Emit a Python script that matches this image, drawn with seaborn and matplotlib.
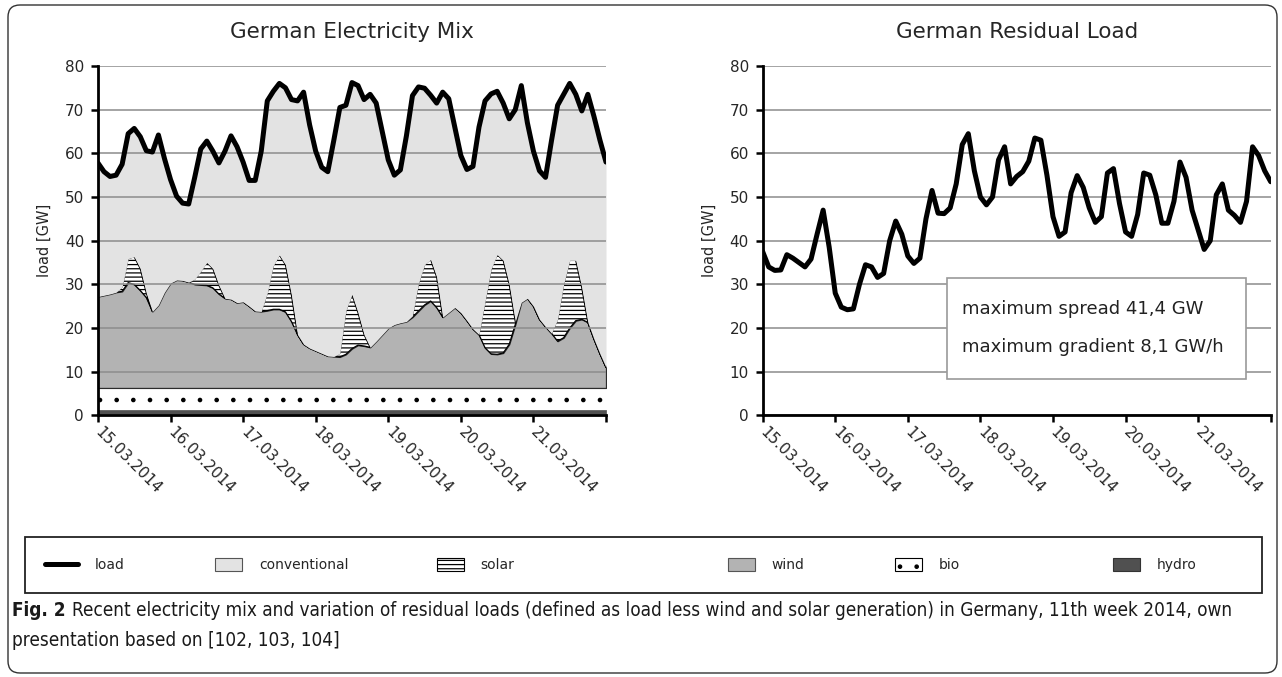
import matplotlib
matplotlib.use("Agg")
import matplotlib.pyplot as plt
from matplotlib.lines import Line2D
from matplotlib.patches import Patch, Rectangle, FancyBboxPatch
from matplotlib.transforms import IdentityTransform
import pandas as pd
import seaborn as sns

# hours since 15.03.2014 00:00, two-hour steps
hours = list(range(0, 169, 2))
day_labels = ["15.03.2014", "16.03.2014", "17.03.2014", "18.03.2014",
              "19.03.2014", "20.03.2014", "21.03.2014", ""]

load_gw = [57.8, 55.8, 54.7, 55.0, 57.5, 64.5, 65.7, 63.8, 60.6, 60.3, 64.2, 58.8,
           54.0, 50.2, 48.6, 48.4, 54.5, 61.0, 62.8, 60.5, 57.8, 60.5, 64.0, 61.5,
           58.0, 53.8, 53.8, 60.5, 72.0, 74.2, 76.0, 75.0, 72.3, 72.0, 74.0, 66.5,
           60.5, 56.8, 55.8, 63.0, 70.5, 71.0, 76.2, 75.5, 72.3, 73.5, 71.5, 65.0,
           58.5, 55.0, 56.2, 64.0, 73.2, 75.2, 74.9, 73.3, 71.5, 74.0, 72.5, 66.0,
           59.5, 56.3, 57.0, 66.0, 72.0, 73.6, 74.2, 71.5, 67.9, 70.0, 75.5, 67.0,
           60.5, 56.0, 54.5, 63.0, 71.0, 73.5, 76.0, 73.5, 69.7, 73.5, 68.5, 63.0,
           58.0]

wind_gw = [20.9, 21.2, 21.5, 21.9, 22.1, 24.1, 23.7, 22.3, 20.7, 17.5, 19.0, 21.9,
           24.0, 24.7, 24.6, 24.2, 23.7, 23.6, 23.5, 22.9, 21.5, 20.5, 20.3, 19.5,
           19.7, 18.7, 17.6, 17.5, 17.7, 18.0, 18.0, 17.4, 15.2, 12.2, 10.0, 9.1,
           8.5, 7.9, 7.3, 7.2, 7.1, 7.7, 9.0, 9.8, 9.6, 9.3, 10.7, 12.2,
           13.7, 14.5, 14.9, 15.2, 16.2, 17.6, 19.0, 19.9, 18.4, 16.2, 17.3, 18.4,
           17.2, 15.4, 13.5, 12.2, 9.2, 7.8, 7.7, 8.0, 10.0, 14.5, 19.6, 20.5,
           18.7, 15.7, 14.0, 12.5, 10.7, 11.5, 13.7, 15.4, 15.7, 15.0, 11.2, 7.8,
           4.7]

solar_gw = [0, 0, 0, 0, 1.0, 5.5, 6.3, 5.0, 1.0, 0, 0, 0,
            0, 0, 0, 0, 1.2, 3.1, 5.2, 4.4, 2.0, 0, 0, 0,
            0, 0, 0, 0, 4.0, 10.0, 12.4, 10.8, 6.0, 0, 0, 0,
            0, 0, 0, 0, 0.8, 10.0, 12.4, 7.4, 2.6, 0, 0, 0,
            0, 0, 0, 0, 0.3, 6.3, 9.2, 9.5, 7.0, 0, 0, 0,
            0, 0, 0, 0, 10.5, 19.4, 22.8, 21.2, 13.7, 0.7, 0, 0,
            0, 0, 0, 0, 5.0, 12.2, 15.5, 13.8, 7.2, 0, 0, 0,
            0]

residual_gw = [37.5, 34.0, 33.2, 33.3, 36.8, 36.0, 35.0, 34.0, 35.8, 41.5, 47.0, 38.5,
               28.0, 24.8, 24.2, 24.4, 30.0, 34.5, 34.0, 31.6, 32.5, 40.0, 44.5, 41.5,
               36.5, 34.8, 36.0, 45.0, 51.5, 46.3, 46.2, 47.5, 53.0, 62.0, 64.5, 56.0,
               50.0, 48.2, 50.0, 58.5, 61.5, 53.0, 54.7, 55.8, 58.2, 63.5, 63.0, 55.0,
               45.5, 41.0, 42.0, 51.0, 54.9, 52.2, 47.5, 44.2, 45.5, 55.5, 56.5, 48.5,
               42.0, 41.0, 46.0, 55.5, 55.0, 50.5, 44.0, 44.0, 49.0, 58.0, 54.5, 47.0,
               42.5, 38.0, 40.0, 50.5, 53.0, 47.0, 45.8, 44.2, 49.0, 61.5, 59.5, 56.0,
               53.5]

hydro_gw = 1.3
bio_gw = 5.0

df = pd.DataFrame({"hour": hours, "load": load_gw, "wind": wind_gw,
                   "solar": solar_gw, "residual": residual_gw})
df["hydro_top"] = hydro_gw
df["bio_top"] = hydro_gw + bio_gw
df["wind_top"] = df["bio_top"] + df["wind"]
df["solar_top"] = df["wind_top"] + df["solar"]

sns.set_theme(style="white")
plt.rcParams["font.family"] = ["DejaVu Sans"]
plt.rcParams["hatch.linewidth"] = 0.9

C_CONV = "#e3e3e3"
C_WIND = "#b3b3b3"
C_HYDRO = "#505050"
C_GRID = "#8c8c8c"

fig = plt.figure(figsize=(12.82, 6.77), dpi=100)
ax1 = fig.add_axes([0.0764, 0.3863, 0.3963, 0.5163])
ax2 = fig.add_axes([0.5949, 0.3863, 0.3963, 0.5163])

# stacked generation mix
ax1.fill_between(df.hour, 0, df.hydro_top, facecolor=C_HYDRO, edgecolor=C_HYDRO, lw=0.5)
ax1.fill_between(df.hour, df.hydro_top, df.bio_top, facecolor="white",
                 edgecolor="black", hatch=".", lw=0)
ax1.fill_between(df.hour, df.bio_top, df.wind_top, facecolor=C_WIND,
                 edgecolor="#2b2b2b", lw=0.9)
ax1.fill_between(df.hour, df.wind_top, df.solar_top, facecolor="white",
                 edgecolor="black", hatch="----", lw=0.9)
ax1.fill_between(df.hour, df.solar_top, df.load, facecolor=C_CONV, lw=0)
sns.lineplot(data=df, x="hour", y="load", ax=ax1, color="black", lw=3.6, zorder=4)

sns.lineplot(data=df, x="hour", y="residual", ax=ax2, color="black", lw=3.6, zorder=4)

for ax, title in [(ax1, "German Electricity Mix"), (ax2, "German Residual Load")]:
    ax.set_xlim(0, 168)
    ax.set_ylim(0, 80)
    ax.set_yticks(range(0, 81, 10))
    ax.set_xticks(range(0, 169, 24))
    ax.set_xticklabels(day_labels, rotation=-45, ha="left", va="center",
                       rotation_mode="anchor", fontsize=11)
    ax.tick_params(axis="y", labelsize=11)
    ax.tick_params(bottom=True, left=True, direction="out", length=5, width=1.8,
                   color="black", pad=5)
    ax.yaxis.grid(True, color=C_GRID, lw=1.1)
    ax.set_axisbelow(False)
    for side in ["top", "right"]:
        ax.spines[side].set_visible(False)
    for side in ["left", "bottom"]:
        ax.spines[side].set_color("black")
        ax.spines[side].set_linewidth(2.0)
        ax.spines[side].set_zorder(5)
    ax.set_xlabel("")
    ax.set_ylabel("load [GW]", fontsize=10.5, labelpad=9)
    ax.set_title(title, fontsize=15.5, pad=20)

# info box on residual load
ax2.add_patch(Rectangle((0.362, 0.104), 0.589, 0.29, transform=ax2.transAxes,
                        facecolor="white", edgecolor="#9a9a9a", lw=1.2, zorder=3))
ax2.text(0.392, 0.305, "maximum spread 41,4 GW", transform=ax2.transAxes,
         fontsize=13, va="center", color="#222222", zorder=6)
ax2.text(0.392, 0.196, "maximum gradient 8,1 GW/h", transform=ax2.transAxes,
         fontsize=13, va="center", color="#222222", zorder=6)

# legend frame and entries
fig.add_artist(Rectangle((25, 84), 1237, 56, transform=IdentityTransform(),
                         fill=False, edgecolor="#222222", lw=1.3))
entries = [
    (Line2D([], [], color="black", lw=3.6), "load", 45, 2.4),
    (Patch(facecolor=C_CONV, edgecolor="#555555", lw=0.8), "conventional", 215, 1.95),
    (Patch(facecolor="white", edgecolor="black", hatch="----", lw=0.8), "solar", 437, 1.95),
    (Patch(facecolor=C_WIND, edgecolor="#555555", lw=0.8), "wind", 728, 1.95),
    (Patch(facecolor="white", edgecolor="black", hatch=".", lw=0.8), "bio", 895, 1.95),
    (Patch(facecolor=C_HYDRO, edgecolor="#333333", lw=0.8), "hydro", 1113, 1.95),
]
for handle, label, xpix, hlen in entries:
    fig.legend(handles=[handle], labels=[label], loc="center left",
               bbox_to_anchor=(xpix / 1282, 112 / 677), frameon=False,
               fontsize=10, handlelength=hlen, handleheight=1.05,
               handletextpad=1.2, borderpad=0, borderaxespad=0)

# caption, sized so the first line ends where the reference does
cap_kw = dict(family=["DejaVu Sans"], stretch="condensed", va="center", color="#1a1a1a")
cap_size = 13
t_fig = fig.text(12 / 1282, 66 / 677, "Fig. 2", fontsize=cap_size, weight="bold", **cap_kw)
t_line1 = fig.text(80 / 1282, 66 / 677,
                   "Recent electricity mix and variation of residual loads (defined as load less "
                   "wind and solar generation) in Germany, 11th week 2014, own",
                   fontsize=cap_size, **cap_kw)
t_line2 = fig.text(12 / 1282, 37 / 677, "presentation based on [102, 103, 104]",
                   fontsize=cap_size, **cap_kw)
renderer = fig.canvas.get_renderer()
w_fig = t_fig.get_window_extent(renderer).width
w_line = t_line1.get_window_extent(renderer).width
scale = (1232 - 12) / (w_fig + 6 + w_line)
for t in (t_fig, t_line1, t_line2):
    t.set_fontsize(cap_size * scale)
bb = t_fig.get_window_extent(renderer)
t_line1.set_x((bb.x1 + 6 * scale) / 1282)

# page frame
fig.add_artist(FancyBboxPatch((8, 4), 1269, 668, boxstyle="round,pad=0,rounding_size=12",
                              transform=IdentityTransform(), fill=False,
                              edgecolor="#333333", lw=1.0))

fig.savefig("out.png", dpi=100)
plt.close(fig)
